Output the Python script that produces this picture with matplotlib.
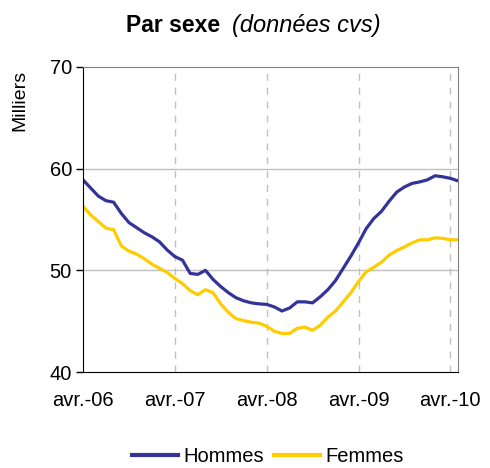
import numpy as np
import matplotlib
matplotlib.use("Agg")
import matplotlib.pyplot as plt
from matplotlib.lines import Line2D

plt.rcParams['font.family'] = ['Liberation Sans', 'DejaVu Sans']

# monthly series, avr.-06 .. mai-10 (milliers, cvs)
hommes = [58.9, 58.1, 57.3, 56.85, 56.7, 55.6, 54.7, 54.2, 53.7, 53.3,
          52.8, 52.0, 51.35, 51.0, 49.7, 49.6, 50.0, 49.1, 48.4, 47.8,
          47.3, 47.0, 46.8, 46.7, 46.65, 46.4, 46.0, 46.3, 46.9, 46.9,
          46.8, 47.4, 48.1, 49.0, 50.2, 51.4, 52.7, 54.1, 55.1, 55.8,
          56.8, 57.7, 58.2, 58.55, 58.7, 58.9, 59.3, 59.2, 59.05, 58.8]
femmes = [56.3, 55.45, 54.8, 54.15, 54.0, 52.4, 51.9, 51.6, 51.15, 50.6,
          50.2, 49.8, 49.2, 48.7, 48.0, 47.6, 48.1, 47.8, 46.7, 45.85,
          45.25, 45.05, 44.9, 44.8, 44.5, 44.0, 43.8, 43.8, 44.3, 44.4,
          44.1, 44.6, 45.4, 46.0, 46.9, 47.8, 48.9, 49.85, 50.3, 50.8,
          51.5, 51.95, 52.3, 52.7, 53.0, 53.0, 53.2, 53.15, 53.0, 53.0]
tick_labels = ["avr.-06", "avr.-07", "avr.-08", "avr.-09", "avr.-10"]
tick_pos = [0, 12, 24, 36, 48]

blue = "#333399"
yellow = "#FFCC00"

fig = plt.figure(figsize=(4.9, 4.68), dpi=100)
ax = fig.add_axes([83/490, 1 - 372/468, 375/490, 305/468])

x = np.arange(len(hommes))
ax.plot(x, hommes, color=blue, lw=2.3, solid_joinstyle='round')
ax.plot(x, femmes, color=yellow, lw=2.3, solid_joinstyle='round')

ax.set_xlim(0, len(hommes) - 1)
ax.set_ylim(40, 70)
ax.set_yticks([40, 50, 60, 70])
ax.set_xticks(tick_pos)
ax.set_xticklabels(tick_labels)

for v in [50, 60]:
    ax.axhline(v, color="#c0c0c0", lw=1, zorder=0)
for p in tick_pos[1:]:
    ax.axvline(p, color="#c0c0c0", lw=1, ls=(0, (5, 5)), zorder=0)

ax.tick_params(axis='y', length=5, width=1, pad=3, labelsize=14.5)
ax.tick_params(axis='x', length=0, pad=14, labelsize=14.5)
ax.spines['top'].set_color("#808080")
ax.spines['right'].set_color("#808080")
ax.spines['left'].set_color("black")
ax.spines['bottom'].set_color("black")

fig.text(20/490, 1 - 100/468, "Milliers", rotation=90, ha='center', va='center', fontsize=14)

fig.text(220/490, 1 - 32/468, "Par sexe", fontsize=16.5, fontweight='bold', ha='right', va='baseline')
fig.text(232/490, 1 - 32/468, "(données cvs)", fontsize=17, style='italic', ha='left', va='baseline')

handles = [Line2D([], [], color=blue, lw=3), Line2D([], [], color=yellow, lw=3)]
fig.legend(handles, ["Hommes", "Femmes"], loc='center', bbox_to_anchor=(268/490, 1 - 457/468),
           ncol=2, frameon=False, fontsize=14.5, handlelength=2.3, handletextpad=0.25,
           columnspacing=0.5, borderpad=0)

fig.savefig("out.png", dpi=100)
